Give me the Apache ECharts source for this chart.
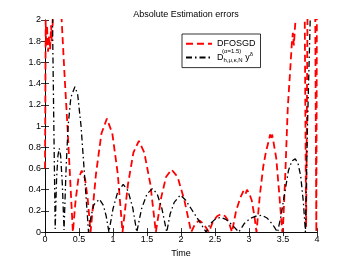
<!DOCTYPE html>
<html>
<head>
<meta charset="utf-8">
<script src="https://cdn.jsdelivr.net/npm/echarts@6/dist/echarts.min.js"></script>
<style>html,body{margin:0;padding:0;background:#fff}#c{width:349px;height:263px}</style>
</head>
<body>
<div id="c"></div>
<script>
var titleText = 'Absolute Estimation errors';
var xName = 'Time';
var seriesNames = ['DFOSGD', 'Dfrac'];

var redT = [0, 0.005, 0.01, 0.02, 0.03, 0.045, 0.06, 0.075, 0.09, 0.1, 0.12, 0.15, 0.2, 0.245,
  0.29, 0.33, 0.37, 0.41,
  0.45, 0.49, 0.54, 0.59, 0.63, 0.67,
  0.75, 0.83, 0.91, 0.99, 1.07, 1.14,
  1.22, 1.30, 1.38, 1.46, 1.55, 1.63,
  1.71, 1.78, 1.86, 1.95, 2.05, 2.15,
  2.21, 2.27, 2.33, 2.41,
  2.47, 2.53, 2.59, 2.65, 2.70, 2.75,
  2.81, 2.87, 2.92, 2.95, 2.97, 3.0, 3.04, 3.08, 3.11,
  3.16, 3.21, 3.25, 3.29, 3.31, 3.33, 3.34, 3.36, 3.40, 3.44, 3.49,
  3.50, 3.53, 3.57, 3.61, 3.63, 3.645, 3.66, 3.675, 3.69, 3.72, 3.78, 3.82, 3.84, 3.86, 3.9, 3.97, 3.99, 4.0];
var redV = [0.6, 1.2, 2.0, 1.75, 1.95, 1.7, 1.85, 1.72, 1.95, 1.8, 2.05, 2.6, 2.6, 2.0,
  1.45, 1.0, 0.5, 0,
  0.3, 0.5, 0.58, 0.5, 0.3, 0,
  0.55, 0.93, 1.07, 0.93, 0.55, 0,
  0.45, 0.75, 0.86, 0.75, 0.45, 0,
  0.33, 0.52, 0.59, 0.52, 0.3, 0,
  0.08, 0.11, 0.08, 0,
  0.1, 0.15, 0.17, 0.15, 0.1, 0,
  0.2, 0.32, 0.39, 0.36, 0.40, 0.37, 0.3, 0.15, 0,
  0.35, 0.62, 0.76, 0.86, 0.92, 0.87, 0.92, 0.85, 0.7, 0.4, 0,
  0.05, 0.48, 1.17, 1.57, 1.78, 1.88, 1.76, 1.92, 2.05, 2.6, 2.6, 2.0, 0.05, 2.0, 2.6, 2.6, 0.0, 2.6];

var blackT = [0, 0.1, 0.11, 0.13, 0.15,
  0.17, 0.19, 0.21, 0.23, 0.255, 0.28,
  0.31, 0.34, 0.38, 0.44, 0.48, 0.53, 0.58, 0.64,
  0.68, 0.72, 0.80, 0.86, 0.90, 0.94,
  1.0, 1.07, 1.15, 1.22, 1.29, 1.35,
  1.42, 1.50, 1.58, 1.65, 1.72, 1.79,
  1.84, 1.90, 1.99, 2.07, 2.15, 2.26, 2.37,
  2.43, 2.50, 2.58, 2.66, 2.75, 2.85,
  2.93, 3.02, 3.10, 3.19, 3.27, 3.35, 3.42,
  3.47, 3.51, 3.58, 3.63, 3.68, 3.72, 3.76, 3.80, 3.83,
  3.86, 3.90, 3.95, 4.0];
var blackV = [2.6, 2.6, 2.0, 1.0, 0.03,
  0.5, 0.72, 0.79, 0.72, 0.45, 0.02,
  0.6, 1.0, 1.27, 1.37, 1.3, 1.0, 0.55, 0,
  0.16, 0.26, 0.31, 0.25, 0.15, 0,
  0.22, 0.38, 0.45, 0.39, 0.23, 0,
  0.22, 0.36, 0.41, 0.36, 0.22, 0,
  0.17, 0.28, 0.35, 0.3, 0.22, 0.11, 0,
  0.08, 0.12, 0.14, 0.12, 0.07, 0,
  0.08, 0.13, 0.15, 0.16, 0.13, 0.07, 0,
  0.15, 0.31, 0.58, 0.67, 0.69, 0.65, 0.53, 0.28, 0,
  1.0, 2.0, 2.6, 2.6];

var xTicks = [0, 4, 0.5];
var yTicks = [0, 2, 0.2];

function pairs(t, v) { return t.map(function (x, i) { return [x, v[i]]; }); }

var FONT = 'Liberation Sans';
var chart = echarts.init(document.getElementById('c'), null, {renderer: 'canvas'});
var axisCommon = {
  axisLine: {show: true, lineStyle: {color: '#000', width: 0.8}},
  axisTick: {show: true, inside: true, length: 4, lineStyle: {color: '#000', width: 0.8}},
  splitLine: {show: false}
};
chart.setOption({
  animation: false,
  backgroundColor: '#fff',
  title: {
    text: titleText, left: 181, top: 5, textAlign: 'center',
    textStyle: {fontFamily: FONT, fontSize: 9, fontWeight: 'normal', color: '#000'}
  },
  grid: {left: 45, right: 32, top: 20, bottom: 30},
  legend: {
    orient: 'vertical', left: 182, top: 34,
    padding: [5, 5, 4, 3], itemGap: 3,
    itemWidth: 26, itemHeight: 12,
    borderColor: '#000', borderWidth: 0.8, backgroundColor: '#fff', borderRadius: 0,
    itemStyle: {opacity: 0},
    data: seriesNames,
    formatter: function (n) {
      return n === 'DFOSGD' ? '{d|DFOSGD}' : '{d|D}{sub|h,μ,κ,N}{y| y}{sup|δ}';
    },
    textStyle: {
      fontFamily: FONT, color: '#000', fontSize: 9,
      rich: {
        d: {fontFamily: FONT, fontSize: 9, color: '#000', lineHeight: 12, verticalAlign: 'middle'},
        sub: {fontFamily: FONT, fontSize: 6, color: '#000', lineHeight: 12, verticalAlign: 'bottom', padding: [4, 0, 0, 0]},
        y: {fontFamily: FONT, fontSize: 9, color: '#000', lineHeight: 12, verticalAlign: 'middle'},
        sup: {fontFamily: FONT, fontSize: 6, color: '#000', lineHeight: 12, verticalAlign: 'top'}
      }
    }
  },
  graphic: [{
    type: 'text', left: 222, top: 48, z: 100,
    style: {text: '(α=1.5)', fontFamily: FONT, fontSize: 6, fill: '#000'}
  }],
  xAxis: [
    Object.assign({
      type: 'value', min: xTicks[0], max: xTicks[1], interval: xTicks[2],
      name: xName, nameLocation: 'middle', nameGap: 14,
      nameTextStyle: {fontFamily: FONT, fontSize: 9, color: '#000'},
      axisLabel: {fontFamily: FONT, fontSize: 9, color: '#000', margin: 3}
    }, axisCommon),
    Object.assign({
      type: 'value', position: 'top', min: xTicks[0], max: xTicks[1], interval: xTicks[2],
      axisLabel: {show: false}
    }, axisCommon)
  ],
  yAxis: [
    Object.assign({
      type: 'value', min: yTicks[0], max: yTicks[1], interval: yTicks[2],
      axisLabel: {fontFamily: FONT, fontSize: 9, color: '#000', margin: 4,
        formatter: function (v) { return String(Math.round(v * 10) / 10); }}
    }, axisCommon),
    Object.assign({
      type: 'value', position: 'right', min: yTicks[0], max: yTicks[1], interval: yTicks[2],
      axisLabel: {show: false}
    }, axisCommon)
  ],
  series: [
    {
      name: seriesNames[0], type: 'line', data: pairs(redT, redV),
      symbol: 'none', clip: true, color: '#ff0000',
      lineStyle: {color: '#ff0000', width: 1.8, type: [7, 4]}
    },
    {
      name: seriesNames[1], type: 'line', data: pairs(blackT, blackV),
      symbol: 'none', clip: true, color: '#000',
      lineStyle: {color: '#000', width: 1.3, type: [6, 3, 1.5, 3]}
    }
  ]
});
</script>
</body>
</html>
